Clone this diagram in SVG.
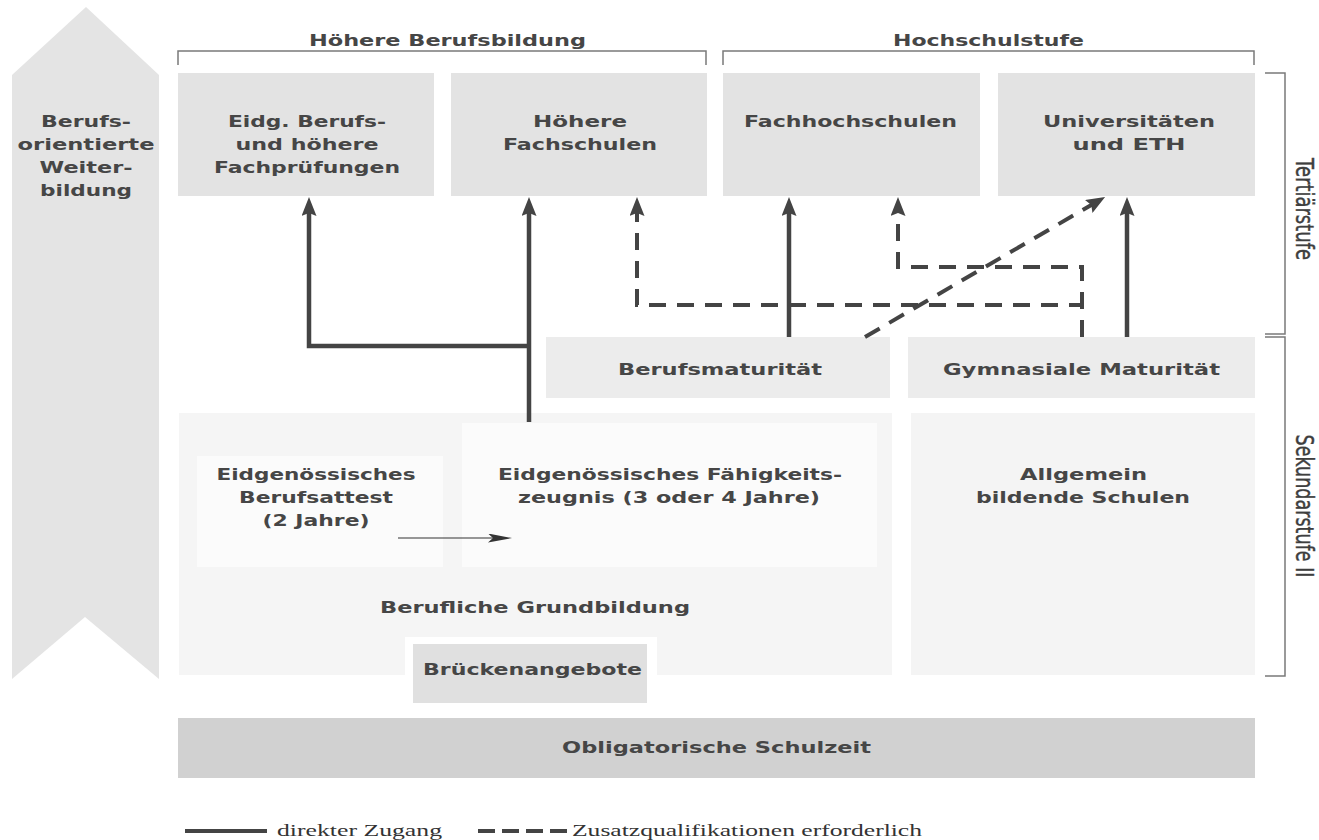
<svg xmlns="http://www.w3.org/2000/svg" width="1319" height="840" viewBox="0 0 1319 840">
<style>
.lbl{font-family:"DejaVu Sans","Liberation Sans",sans-serif;font-weight:bold;font-size:16px;fill:#464646;text-anchor:middle}
.side{font-family:"DejaVu Sans","Liberation Sans",sans-serif;font-size:18px;fill:#3e3e3e;text-anchor:middle;stroke:#3e3e3e;stroke-width:0.3}
.leg{font-family:"Liberation Serif","Times New Roman",serif;font-size:17px;fill:#333}
.br{fill:none;stroke:#7a7a7a;stroke-width:1.5}
.solid{fill:none;stroke:#444;stroke-width:4.5;marker-end:url(#ah)}
.dash{fill:none;stroke:#444;stroke-width:4;stroke-dasharray:17 11;marker-end:url(#ah)}
.top{fill:#e3e3e3}
.mat{fill:#ececec}
.big{fill:#f5f5f5}
.inner{fill:#fbfbfb}
</style>
<defs>
<marker id="ah" markerUnits="userSpaceOnUse" markerWidth="19" markerHeight="15" viewBox="0 0 19 15" refX="5" refY="7.5" orient="auto">
<path d="M0,0 L19,7.5 L0,15 L3,7.5 Z" fill="#444"/>
</marker>
<marker id="thin" markerUnits="userSpaceOnUse" markerWidth="24" markerHeight="9" viewBox="0 0 24 9" refX="5" refY="4.5" orient="auto">
<path d="M0,0 L24,4.5 L0,9 L5,4.5 Z" fill="#333"/>
</marker>
</defs>
<rect width="1319" height="840" fill="#ffffff"/>

<g id="weiterbildung">
<polygon points="86,7 159,75 159,679 85,617 12,679 12,75" fill="#e4e4e4"/>
<text class="lbl" x="86" y="127" textLength="90" lengthAdjust="spacingAndGlyphs">Berufs-</text>
<text class="lbl" x="86" y="150" textLength="137" lengthAdjust="spacingAndGlyphs">orientierte</text>
<text class="lbl" x="86" y="173" textLength="93" lengthAdjust="spacingAndGlyphs">Weiter-</text>
<text class="lbl" x="86" y="196" textLength="92" lengthAdjust="spacingAndGlyphs">bildung</text>
</g>

<g id="hoehere-berufsbildung">
<path class="br" d="M178,65 V51 H706 V65"/>
<text class="lbl" x="447.5" y="46" textLength="277" lengthAdjust="spacingAndGlyphs">Höhere Berufsbildung</text>
</g>
<g id="hochschulstufe">
<path class="br" d="M723,65 V51 H1254 V65"/>
<text class="lbl" x="988.5" y="46" textLength="191" lengthAdjust="spacingAndGlyphs">Hochschulstufe</text>
</g>

<g id="tertiaerstufe">
<path class="br" d="M1265,73 H1285 V334 H1265"/>
<text class="side" transform="translate(1296,209) scale(1.4,1) rotate(90)" x="0" y="0" textLength="102" lengthAdjust="spacingAndGlyphs">Tertiärstufe</text>
</g>
<g id="sekundarstufe">
<path class="br" d="M1265,337 H1285 V676 H1265"/>
<text class="side" transform="translate(1296,506) scale(1.4,1) rotate(90)" x="0" y="0" textLength="143" lengthAdjust="spacingAndGlyphs">Sekundarstufe II</text>
</g>

<g id="fachpruefungen">
<rect class="top" x="178" y="73" width="256" height="123"/>
<text class="lbl" x="307" y="127" textLength="158" lengthAdjust="spacingAndGlyphs">Eidg. Berufs-</text>
<text class="lbl" x="307" y="150" textLength="143" lengthAdjust="spacingAndGlyphs">und höhere</text>
<text class="lbl" x="307" y="173" textLength="186" lengthAdjust="spacingAndGlyphs">Fachprüfungen</text>
</g>
<g id="hoehere-fachschulen">
<rect class="top" x="451" y="73" width="256" height="123"/>
<text class="lbl" x="580" y="127" textLength="94" lengthAdjust="spacingAndGlyphs">Höhere</text>
<text class="lbl" x="580" y="150" textLength="154" lengthAdjust="spacingAndGlyphs">Fachschulen</text>
</g>
<g id="fachhochschulen">
<rect class="top" x="723" y="73" width="257" height="123"/>
<text class="lbl" x="850.5" y="127" textLength="213" lengthAdjust="spacingAndGlyphs">Fachhochschulen</text>
</g>
<g id="universitaeten">
<rect class="top" x="998" y="73" width="257" height="123"/>
<text class="lbl" x="1129" y="127" textLength="172" lengthAdjust="spacingAndGlyphs">Universitäten</text>
<text class="lbl" x="1129" y="150" textLength="113" lengthAdjust="spacingAndGlyphs">und ETH</text>
</g>

<g id="berufsmaturitaet">
<rect class="mat" x="546" y="337" width="344" height="61"/>
<text class="lbl" x="720" y="375" textLength="204" lengthAdjust="spacingAndGlyphs">Berufsmaturität</text>
</g>
<g id="gymnasiale-maturitaet">
<rect class="mat" x="908" y="337" width="347" height="61"/>
<text class="lbl" x="1081.5" y="375" textLength="277" lengthAdjust="spacingAndGlyphs">Gymnasiale Maturität</text>
</g>

<g id="berufliche-grundbildung">
<rect class="big" x="179" y="413" width="713" height="262"/>
<rect fill="#ffffff" x="405" y="637" width="252" height="38"/>
<text class="lbl" x="535" y="613" textLength="310" lengthAdjust="spacingAndGlyphs">Berufliche Grundbildung</text>
</g>
<g id="berufsattest">
<rect class="inner" x="197" y="456" width="246" height="111"/>
<text class="lbl" x="316" y="480" textLength="199" lengthAdjust="spacingAndGlyphs">Eidgenössisches</text>
<text class="lbl" x="316" y="503" textLength="154" lengthAdjust="spacingAndGlyphs">Berufsattest</text>
<text class="lbl" x="316" y="526" textLength="107" lengthAdjust="spacingAndGlyphs">(2 Jahre)</text>
</g>
<g id="faehigkeitszeugnis">
<rect class="inner" x="462" y="423" width="415" height="144"/>
<text class="lbl" x="670" y="480" textLength="344" lengthAdjust="spacingAndGlyphs">Eidgenössisches Fähigkeits-</text>
<text class="lbl" x="669" y="503" textLength="302" lengthAdjust="spacingAndGlyphs">zeugnis (3 oder 4 Jahre)</text>
</g>
<g id="brueckenangebote">
<rect fill="#e0e0e0" x="413" y="644" width="234" height="59"/>
<text class="lbl" x="532.5" y="675" textLength="219" lengthAdjust="spacingAndGlyphs">Brückenangebote</text>
</g>
<g id="allgemeinbildende-schulen">
<rect fill="#f4f4f4" x="911" y="413" width="344" height="262"/>
<text class="lbl" x="1083.5" y="480" textLength="127" lengthAdjust="spacingAndGlyphs">Allgemein</text>
<text class="lbl" x="1083" y="503" textLength="214" lengthAdjust="spacingAndGlyphs">bildende Schulen</text>
</g>
<g id="obligatorische-schulzeit">
<rect fill="#d1d1d1" x="178" y="718" width="1077" height="60"/>
<text class="lbl" x="716.5" y="753" textLength="309" lengthAdjust="spacingAndGlyphs">Obligatorische Schulzeit</text>
</g>

<g id="connectors">
<path class="solid" d="M529,422 V211"/>
<path class="solid" d="M529,346 H309 V211"/>
<path class="solid" d="M789,337 V211"/>
<path class="solid" d="M1127,337 V211"/>
<path class="dash" d="M1082,337 V305 H637 V211"/>
<path class="dash" d="M1082,337 V267 H898 V211"/>
<path class="dash" d="M865,337 L1093,204"/>
<path d="M398,538 H493" fill="none" stroke="#333" stroke-width="1.2" marker-end="url(#thin)"/>
</g>

<g id="legend">
<path d="M185,831 H267" stroke="#444" stroke-width="4" fill="none"/>
<text class="leg" x="277" y="836" textLength="165" lengthAdjust="spacingAndGlyphs">direkter Zugang</text>
<path d="M478,831 H567" stroke="#444" stroke-width="4" stroke-dasharray="17 7" fill="none"/>
<text class="leg" x="572" y="836" textLength="350" lengthAdjust="spacingAndGlyphs">Zusatzqualifikationen erforderlich</text>
</g>
</svg>
